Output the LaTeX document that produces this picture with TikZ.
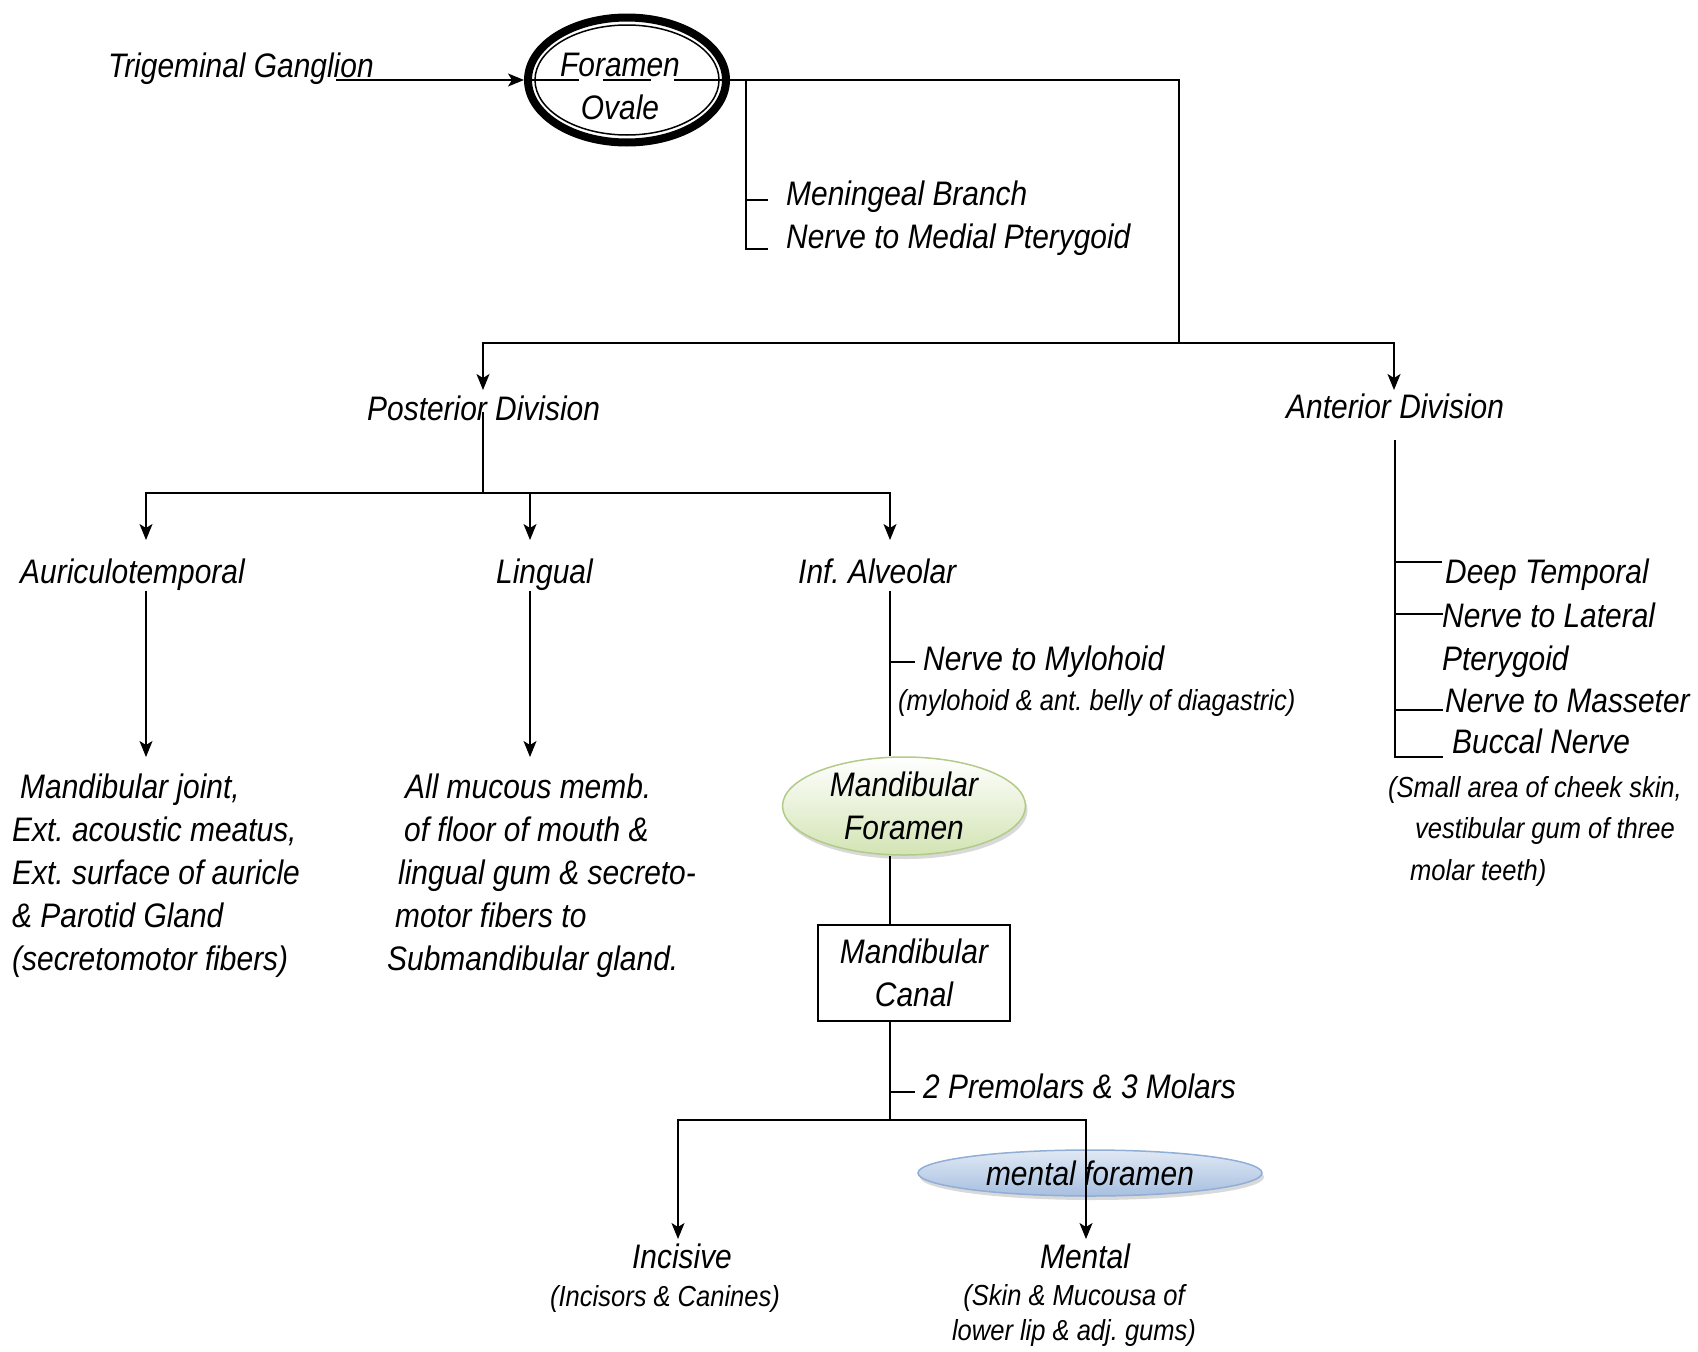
\documentclass[tikz,border=0pt]{standalone}
\usepackage{fontspec}
\setmainfont{Liberation Sans}[FakeStretch=0.88]
\usetikzlibrary{arrows.meta,shapes.geometric,shadows,positioning}
\frenchspacing

\definecolor{foramgreen}{HTML}{D3E4B4}
\definecolor{foramgreenline}{HTML}{B3CB88}
\definecolor{mentblue}{HTML}{A7BFE0}
\definecolor{mentblueline}{HTML}{90AED6}

\begin{document}
\begin{tikzpicture}[x=1pt, y=-1pt,
    term/.style={font=\fontsize{34}{43}\selectfont\itshape, inner sep=0pt, anchor=base west, align=left},
    note/.style={font=\fontsize{29}{41.5}\selectfont\itshape, inner sep=0pt, anchor=base west, align=left},
    nerve/.style={line width=1.4pt},
    ovale/.style={draw, ellipse, line width=8pt, minimum width=198pt, minimum height=125pt, inner sep=0pt},
    mfor/.style={term, ellipse, anchor=center, align=center, draw=foramgreenline, line width=1.5pt,
        top color=white, bottom color=foramgreen, minimum width=243pt, minimum height=98pt,
        drop shadow={shadow xshift=2pt, shadow yshift=-4pt, opacity=0.3, fill=black!50}},
    mentfor/.style={term, ellipse, anchor=center, draw=mentblueline, line width=1.5pt,
        top color=mentblue!35, bottom color=mentblue, minimum width=344pt, minimum height=46pt,
        drop shadow={shadow xshift=2pt, shadow yshift=-4pt, opacity=0.3, fill=black!50}},
    canal/.style={term, draw, anchor=center, align=center, line width=1.4pt, minimum width=192pt, minimum height=96pt},
    >={Stealth[length=16pt, width=13pt, inset=4pt]}]

    \useasboundingbox (0,0) rectangle (1698,1352);

    % foramen ovale
    \node[term] (tg) at (108,77) {Trigeminal Ganglion};
    \node[ovale] (fo) at (627,80) {};
    \draw[line width=1.5pt] (fo.center) ellipse [x radius=92, y radius=55];
    \node[term, anchor=base, align=center] (fotext) at (620,119) {Foramen\\Ovale};
    \coordinate (tgout) at (336,80);
    \coordinate (trunk) at (1179,343);
    \coordinate (menbr) at (746,80);

    \draw[nerve, ->] (tgout) -- (fo.west);
    \draw[nerve, dash pattern=on 55pt off 24pt on 48pt off 23pt on 60pt] (fo.west) -- (fo.east);
    \draw[nerve] (fo.east) -| (trunk);

    % meningeal and medial pterygoid
    \node[term] (menin) at (786,248) {Meningeal Branch\\Nerve to Medial Pterygoid};
    \draw[nerve] (menbr) |- (768,249);
    \draw[nerve] (746,200) -- (768,200);

    % divisions
    \node[term] (post) at (367,420) {Posterior Division};
    \node[term] (ant) at (1286,418) {Anterior Division};
    \coordinate (postin) at (483,390);
    \coordinate (antin) at (1394,390);
    \draw[nerve, ->] (trunk) -| (postin);
    \draw[nerve, ->] (trunk) -| (antin);

    % posterior division
    \coordinate (postout) at (483,412);
    \coordinate (pbus) at (483,493);
    \draw[nerve] (postout) -- (pbus);
    \node[term] (auric) at (20,583) {Auriculotemporal};
    \node[term] (ling) at (496,583) {Lingual};
    \node[term] (infalv) at (798,583) {Inf. Alveolar};
    \draw[nerve, ->] (pbus) -| (146,540);
    \draw[nerve, ->] (pbus) -| (530,540);
    \draw[nerve, ->] (pbus) -| (890,540);

    \node[term] (auricd) at (12,970) {\hspace*{8pt}Mandibular joint,\\Ext. acoustic meatus,\\Ext. surface of auricle\\\& Parotid Gland\\(secretomotor fibers)};
    \node[term] (lingd) at (387,970) {\hspace*{18pt}All mucous memb.\\\hspace*{17pt}of floor of mouth \&\\\hspace*{11pt}lingual gum \& secreto-\\\hspace*{8pt}motor fibers to\\Submandibular gland.};
    \draw[nerve, ->] (146,591) -- (146,757);
    \draw[nerve, ->] (530,591) -- (530,757);

    % inferior alveolar
    \coordinate (iaout) at (890,591);
    \node[term] (mylo) at (923,670) {Nerve to Mylohoid};
    \node[note] (mylod) at (898,710) {(mylohoid \& ant. belly of diagastric)};
    \node[mfor] (mf) at (904,806) {Mandibular\\Foramen};
    \node[canal] (mc) at (914,973) {Mandibular\\Canal};
    \draw[nerve] (iaout) -- (iaout |- mf.north);
    \draw[nerve] (890,662) -- (915,662);
    \draw[nerve] (mf.south -| iaout) -- (mc.north -| iaout);

    \coordinate (ibus) at (890,1120);
    \node[term] (molars) at (923,1098) {2 Premolars \& 3 Molars};
    \draw[nerve] (mc.south -| iaout) -- (ibus);
    \draw[nerve] (890,1092) -- (915,1092);

    \node[mentfor] (mnf) at (1090,1173) {mental foramen};
    \draw[nerve, ->] (ibus) -| (678,1239);
    \draw[nerve, ->] (ibus) -| (1086,1239);

    \node[term, anchor=base] (inc) at (682,1268) {Incisive};
    \node[note, anchor=base] (incd) at (665,1306) {(Incisors \& Canines)};
    \node[term, anchor=base] (ment) at (1085,1268) {Mental};
    \node[note, anchor=base, align=center, font=\fontsize{29}{35}\selectfont\itshape] (mentd) at (1074,1340) {(Skin \& Mucousa of\\lower lip \& adj. gums)};

    % anterior division
    \coordinate (antout) at (1395,440);
    \draw[nerve] (antout) -- (1395,757) -- (1443,757);
    \draw[nerve] (1395,562) -- (1442,562);
    \draw[nerve] (1395,614) -- (1443,614);
    \draw[nerve] (1395,710) -- (1443,710);
    \node[term] (deept) at (1445,583) {Deep Temporal};
    \node[term] (latpt) at (1442,670) {Nerve to Lateral\\Pterygoid};
    \node[term] (mass) at (1445,712) {Nerve to Masseter};
    \node[term] (bucc) at (1452,753) {Buccal Nerve};
    \node[note] (buccd) at (1388,880) {(Small area of cheek skin,\\\hspace*{27pt}vestibular gum of three\\\hspace*{22pt}molar teeth)};
\end{tikzpicture}
\end{document}
